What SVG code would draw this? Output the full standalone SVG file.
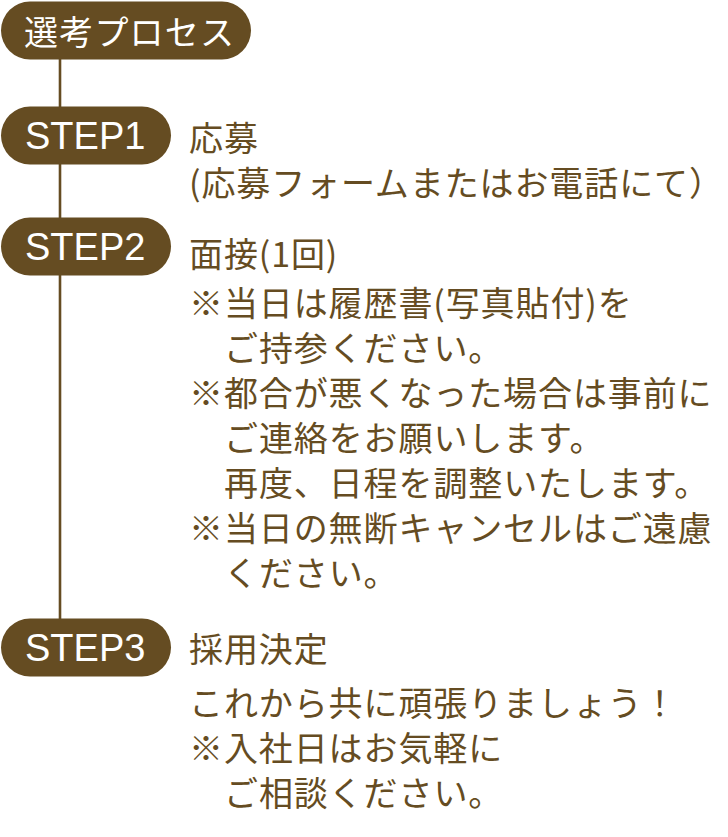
<svg xmlns="http://www.w3.org/2000/svg" width="728" height="837" viewBox="0 0 728 837">
<style>
.pill{fill:#654C22}
.pt{fill:#fff;font-family:"Liberation Sans",Arial,sans-serif;font-size:38px;dominant-baseline:central}
.jt{fill:#fff;font-family:"Noto Sans CJK JP","Noto Sans",sans-serif;font-size:34px;letter-spacing:1.2px;dominant-baseline:central}
.bt{fill:#654C22;font-family:"Noto Sans CJK JP","Noto Sans",sans-serif;font-size:34px;letter-spacing:0.9px;dominant-baseline:central}
.conn{stroke:#654C22;stroke-width:2.6;fill:none}
</style>
<rect width="728" height="837" fill="#fff"/>
<g id="connectors">
<line class="conn" x1="60" y1="40" x2="60" y2="640"/>
</g>
<g id="title">
<rect class="pill" x="1" y="1.5" width="250" height="58" rx="29"/>
<text class="jt" x="24" y="30.5">選考プロセス</text>
</g>
<g id="step1">
<rect class="pill" x="1" y="106.5" width="170" height="58" rx="29"/>
<text class="pt" x="25" y="135.5">STEP1</text>
</g>
<g id="step2">
<rect class="pill" x="1" y="217.5" width="170" height="58" rx="29"/>
<text class="pt" x="25" y="246.5">STEP2</text>
</g>
<g id="step3">
<rect class="pill" x="1" y="618.5" width="170" height="58" rx="29"/>
<text class="pt" x="25" y="647.5">STEP3</text>
</g>
<g id="step1-text">
<text class="bt" x="189" y="136.5">応募</text>
<text class="bt" x="189" y="181">(応募フォームまたはお電話にて）</text>
</g>
<g id="step2-text">
<text class="bt" x="189" y="252">面接(1回)</text>
<text class="bt" x="189" y="301">※当日は履歴書(写真貼付)を</text>
<text class="bt" x="224" y="346">ご持参ください。</text>
<text class="bt" x="189" y="391">※都合が悪くなった場合は事前に</text>
<text class="bt" x="224" y="436">ご連絡をお願いします。</text>
<text class="bt" x="224" y="481">再度、日程を調整いたします。</text>
<text class="bt" x="189" y="526">※当日の無断キャンセルはご遠慮</text>
<text class="bt" x="224" y="571">ください。</text>
</g>
<g id="step3-text">
<text class="bt" x="189" y="647">採用決定</text>
<text class="bt" x="189" y="701">これから共に頑張りましょう！</text>
<text class="bt" x="189" y="746">※入社日はお気軽に</text>
<text class="bt" x="224" y="791">ご相談ください。</text>
</g>
</svg>
